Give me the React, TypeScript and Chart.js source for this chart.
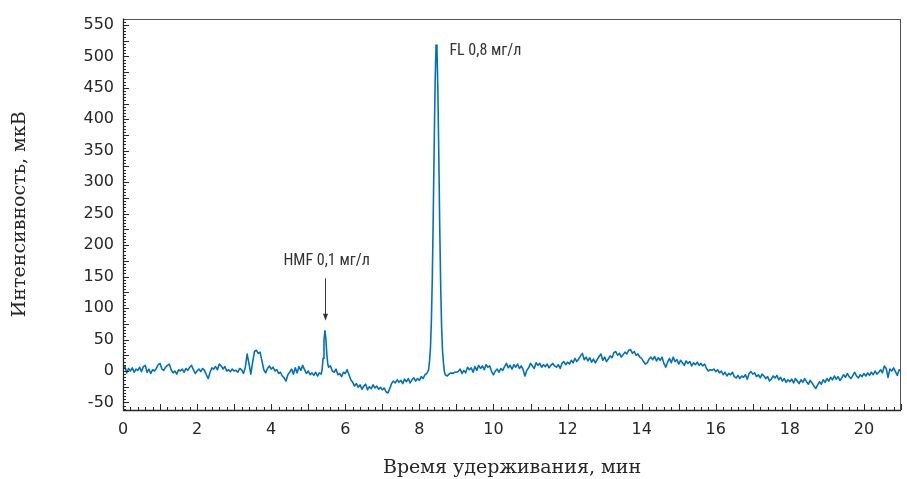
import React, { useEffect, useRef } from "react";
import { Chart, registerables } from "chart.js";

Chart.register(...registerables);

// Detector signal, mkV. Each segment is sampled every `step` minutes from `start`.
const trace0to3 = [
  2, 8, -3, 4, 0, 5, -2, 3, 1, 6, -1, 7, 9, -2, 3, -4, 2, 0, 4, 10,
  12, 3, 1, 6, 9, 11, 2, -3, 0, -5, 2, 0, 3, -2, 4, 1, 6, 9, 2, -4,
  0, 3, -1, 4, 1, -6, -12, -2, 5, 3, 7, 2, 11, 8, 3, 7, 0, 2, -1, 3,
];
const trace3to5_3 = [
  0, 1, -2, 4, 2, -4, 5, 27, 12, -5, 14, 31, 33, 28, 30, 16, 2, -3, 4, 8,
  3, 6, 0, 2, -4, -2, -8, -11, -16, -6, -2, 3, -5, 5, -3, 7, 1, 9, 2, -4,
  0, -6, -3, -7, -2, -8, -3,
];
// HMF peak region, 5.35–5.55 min, finer sampling
const hmfPeak = [-5, 2, 20, 48, 64, 52, 28, 12, 6];
const trace5_6to8_2 = [
  8, 0, -2, 3, -6, -4, -9, -2,
  -4, 2, -6, -14, -18, -24, -20, -26, -22, -29, -24, -21, -30, -25, -28, -22, -27, -24, -29, -26,
  -30, -27, -33, -35, -28, -20, -16, -19, -14, -18, -15, -20, -13, -17, -12, -19, -14, -11, -16, -12,
  -15, -9, -12, -6, -4,
];
// FL peak region, 8.25–8.70 min, finer sampling
const flPeak = [2, 16, 38, 81, 151, 249, 360, 459, 518, 512, 442, 338, 227, 135, 70, 32, 13, -1, -6];
const trace8_75to9 = [-8, -5, -3, -4, -2];
const trace9to12 = [
  -2, -1, 3, -4, 1, -3, 6, 2, 5, -2, 7, 1, 9, 4, 8, 2, 10, 6, 8, -1,
  -6, 0, 3, -2, 4, 1, 7, 12, 5, 9, 3, 10, 6, 11, 4, 8, 2, -8, 1, 5,
  12, 8, 4, 13, 9, 12, 6, 10, 7, 11, 5, 9, 12, 8, 6, 10, 4, 12, 15, 10,
];
const trace12to15 = [
  14, 11, 17, 13, 20, 15, 19, 24, 28, 18, 22, 16, 21, 14, 19, 13, 18, 23, 27, 17,
  22, 15, 19, 24, 21, 29, 31, 25, 28, 22, 26, 30, 27, 33, 34, 28, 31, 25, 27, 22,
  20, 15, 11, 13, 19, 22, 18, 23, 16, 21, 17, 22, 12, 6, 14, 20, 13, 22, 15, 18,
];
const trace15to18 = [
  11, 17, 13, 9, 16, 12, 15, 8, 13, 10, 14, 9, 12, 8, 11, 4, 0, 2, 1, 3,
  -1, 2, -3, 0, -6, -2, -8, -4, -6, -2, -9, -11, -7, -12, -8, -10, -6, -13, -4, -1,
  -5, -3, -9, -6, -11, -5, -8, -12, -9, -16, -13, -8, -11, -7, -14, -10, -16, -12, -18, -14,
];
const trace18to21 = [
  -17, -13, -19, -12, -16, -20, -14, -18, -12, -17, -21, -15, -19, -24, -28, -22, -17, -21, -14, -18,
  -12, -16, -10, -14, -8, -13, -9, -15, -11, -6, -10, -4, -9, -12, -7, -2, -8, -11, -6, -9,
  -4, -8, -3, -7, -2, -6, 0, -5, -2, 2, -3, 8, 4, -10, 3, 0, 5, -1, -7, 2, 0,
];

const segments = [
  { start: 0, step: 0.05, values: trace0to3 },
  { start: 3, step: 0.05, values: trace3to5_3 },
  { start: 5.35, step: 0.025, values: hmfPeak },
  { start: 5.6, step: 0.05, values: trace5_6to8_2 },
  { start: 8.25, step: 0.025, values: flPeak },
  { start: 8.75, step: 0.05, values: trace8_75to9 },
  { start: 9, step: 0.05, values: trace9to12 },
  { start: 12, step: 0.05, values: trace12to15 },
  { start: 15, step: 0.05, values: trace15to18 },
  { start: 18, step: 0.05, values: trace18to21 },
];

// Axis settings
const X_MIN = 0;
const X_MAX = 21;
const X_LABEL_STEP = 2;
const Y_MIN = -62;
const Y_MAX = 560;
const Y_LABEL_STEP = 50;

// Peak annotations (data coordinates)
const hmfLabel = { text: "HMF 0,1 мг/л", x: 4.33, y: 174 };
const hmfArrow = { x: 5.45, yFrom: 147, yTo: 80 };
const flLabel = { text: "FL 0,8 мг/л", x: 8.81, y: 509 };

const points = segments.flatMap((s) =>
  s.values.map((v, i) => ({ x: +(s.start + i * s.step).toFixed(3), y: v }))
);

const AXIS_COLOR = "#262626";
const LABEL_FONT = '"Roboto Condensed", "Liberation Sans Narrow", "DejaVu Sans Condensed", Roboto, sans-serif';

const framePlugin = {
  id: "frameAndTicks",
  afterDraw(chart: any) {
    const { ctx, chartArea: a, scales } = chart;
    const xs = scales.x;
    const ys = scales.y;
    ctx.save();
    ctx.strokeStyle = AXIS_COLOR;
    ctx.lineWidth = 1;
    ctx.beginPath();
    for (let i = 0; i <= 105; i++) {
      const v = i * 0.2;
      if (v > X_MAX + 1e-6) break;
      const px = Math.round(xs.getPixelForValue(v)) + 0.5;
      const len = i % 5 === 0 ? 6 : 3;
      ctx.moveTo(px, a.bottom);
      ctx.lineTo(px, a.bottom - len);
    }
    for (let v = -60; v <= Y_MAX; v += 5) {
      const py = Math.round(ys.getPixelForValue(v)) + 0.5;
      const len = v % 25 === 0 ? 6 : 3;
      ctx.moveTo(a.left, py);
      ctx.lineTo(a.left + len, py);
    }
    ctx.stroke();
    ctx.strokeStyle = "#555";
    ctx.strokeRect(Math.round(a.left) + 0.5, Math.round(a.top) + 0.5, Math.round(a.right - a.left) - 1, Math.round(a.bottom - a.top));
    ctx.strokeStyle = AXIS_COLOR;
    ctx.lineWidth = 1.3;
    ctx.beginPath();
    ctx.moveTo(a.left + 0.5, a.top);
    ctx.lineTo(a.left + 0.5, a.bottom + 0.5);
    ctx.lineTo(a.right, a.bottom + 0.5);
    ctx.stroke();

    ctx.fillStyle = "#333";
    ctx.font = `16px ${LABEL_FONT}`;
    try { (ctx as any).fontStretch = "condensed"; } catch (e) {}
    ctx.textBaseline = "middle";
    ctx.textAlign = "left";
    ctx.fillText(hmfLabel.text, xs.getPixelForValue(hmfLabel.x), ys.getPixelForValue(hmfLabel.y));
    ctx.fillText(flLabel.text, xs.getPixelForValue(flLabel.x), ys.getPixelForValue(flLabel.y));

    const ax = Math.round(xs.getPixelForValue(hmfArrow.x)) + 0.5;
    const ay1 = ys.getPixelForValue(hmfArrow.yFrom);
    const ay2 = ys.getPixelForValue(hmfArrow.yTo);
    ctx.strokeStyle = "#333";
    ctx.lineWidth = 1;
    ctx.beginPath();
    ctx.moveTo(ax, ay1);
    ctx.lineTo(ax, ay2 - 4);
    ctx.stroke();
    ctx.beginPath();
    ctx.moveTo(ax, ay2);
    ctx.lineTo(ax - 2.5, ay2 - 7);
    ctx.lineTo(ax + 2.5, ay2 - 7);
    ctx.closePath();
    ctx.fill();
    ctx.restore();
  },
};

export default function App() {
  const ref = useRef<HTMLCanvasElement | null>(null);
  useEffect(() => {
    document.body.style.margin = "0";
    const canvas = ref.current!;
    const chart = new Chart(canvas, {
      type: "line",
      data: {
        datasets: [
          {
            data: points,
            borderColor: "#0072bd",
            borderWidth: 1.6,
            pointRadius: 0,
            tension: 0,
            borderJoinStyle: "round",
            fill: false,
          },
        ],
      },
      options: {
        animation: false,
        responsive: false,
        devicePixelRatio: 1,
        layout: { padding: { top: 9, right: 6, left: 0, bottom: 0 } },
        plugins: { legend: { display: false }, tooltip: { enabled: false } },
        scales: {
          x: {
            type: "linear",
            min: X_MIN,
            max: X_MAX,
            grid: { display: false, drawTicks: false },
            border: { display: false },
            ticks: {
              stepSize: X_LABEL_STEP,
              includeBounds: false,
              padding: 10,
              color: "#262626",
              font: { family: '"DejaVu Sans", sans-serif', size: 16 },
              maxRotation: 0,
            },
            title: {
              display: true,
              text: "Время удерживания, мин",
              color: "#262626",
              font: { family: '"DejaVu Serif", serif', size: 19 },
              padding: { top: 2, bottom: 0 },
            },
            afterFit(scale: any) {
              scale.height = 69;
            },
          },
          y: {
            type: "linear",
            min: Y_MIN,
            max: Y_MAX,
            grid: { display: false, drawTicks: false },
            border: { display: false },
            ticks: {
              stepSize: Y_LABEL_STEP,
              includeBounds: false,
              padding: 9,
              color: "#262626",
              font: { family: '"DejaVu Sans", sans-serif', size: 16 },
            },
            title: {
              display: true,
              text: "Интенсивность, мкВ",
              color: "#262626",
              font: { family: '"DejaVu Serif", serif', size: 19 },
              padding: { top: 8.5, bottom: 0 },
            },
            afterFit(scale: any) {
              scale.width = 123;
            },
          },
        },
      },
      plugins: [framePlugin],
    });
    return () => chart.destroy();
  }, []);
  return <canvas ref={ref} width={907} height={479} style={{ display: "block" }} />;
}
